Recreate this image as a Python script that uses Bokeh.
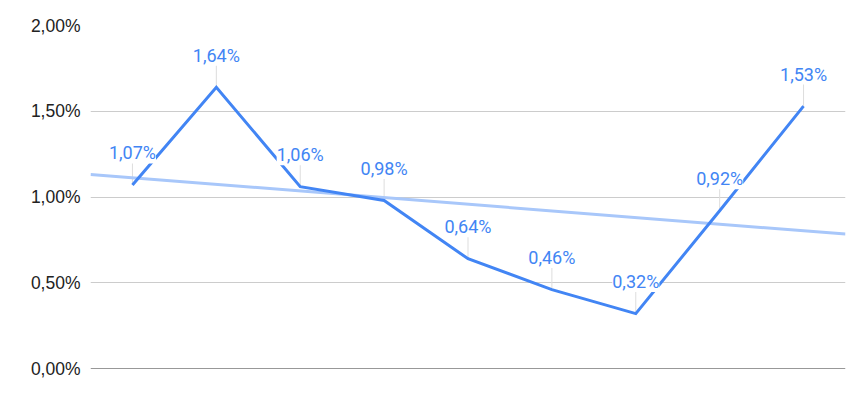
import numpy as np
from bokeh.plotting import figure
from bokeh.models import ColumnDataSource, LabelSet, FixedTicker, CustomJSTickFormatter, Span, Range1d
from bokeh.core.properties import value
from bokeh.embed import file_html
from bokeh.resources import INLINE

# Data (percent values)
positions = [0, 1, 2, 3, 4, 5, 6, 7, 8]
values = [1.07, 1.64, 1.06, 0.98, 0.64, 0.46, 0.32, 0.92, 1.53]
labels = ["1,07%", "1,64%", "1,06%", "0,98%", "0,64%", "0,46%", "0,32%", "0,92%", "1,53%"]
y_ticks = [0, 0.5, 1.0, 1.5, 2.0]

p = figure(width=861, height=393, output_backend="svg", toolbar_location=None,
           x_range=Range1d(-0.5, 8.5), y_range=Range1d(0, 2.0),
           min_border_left=90, min_border_right=16, min_border_top=25, min_border_bottom=25)
p.outline_line_color = None
p.background_fill_color = "white"
p.border_fill_color = "white"

p.xaxis.visible = False
p.xgrid.visible = False
p.ygrid.grid_line_color = "#cccccc"
p.ygrid.grid_line_width = 1

p.yaxis.ticker = FixedTicker(ticks=y_ticks)
p.yaxis.formatter = CustomJSTickFormatter(code="return tick.toFixed(2).replace('.', ',') + '%';")
p.yaxis.axis_line_color = None
p.yaxis.major_tick_line_color = None
p.yaxis.major_tick_out = 0
p.yaxis.major_tick_in = 0
p.yaxis.minor_tick_line_color = None
p.yaxis.major_label_standoff = 10
p.yaxis.major_label_text_font = "Liberation Sans"
p.yaxis.major_label_text_font_size = "17.5px"
p.yaxis.major_label_text_color = "#222222"

src = ColumnDataSource(dict(x=positions, y=values, label=labels,
                            y_top=[v + 0.14 for v in values]))

# leader lines
p.segment(x0="x", y0="y", x1="x", y1="y_top", source=src, line_color="#dddddd", line_width=1)

# linear trendline derived from the series
slope, intercept = np.polyfit(positions, values, 1)
tx = [-0.5, 8.5]
ty = [intercept + slope * t for t in tx]
p.line(tx, ty, line_color="#a8c7fa", line_width=3)

p.add_layout(Span(location=0, dimension="width", line_color="#333333", line_width=1))

p.line("x", "y", source=src, line_color="#4285f4", line_width=3, line_join="miter")

ls = LabelSet(x="x", y="y", text="label", source=src, y_offset=32,
              text_align="center", text_baseline="middle",
              text_font=value("Roboto"), text_font_size=value("18px"), text_color=value("#4285f4"),
              background_fill_color="white", background_fill_alpha=1.0)
p.add_layout(ls)

open("out.html", "w").write(file_html(p, INLINE))
